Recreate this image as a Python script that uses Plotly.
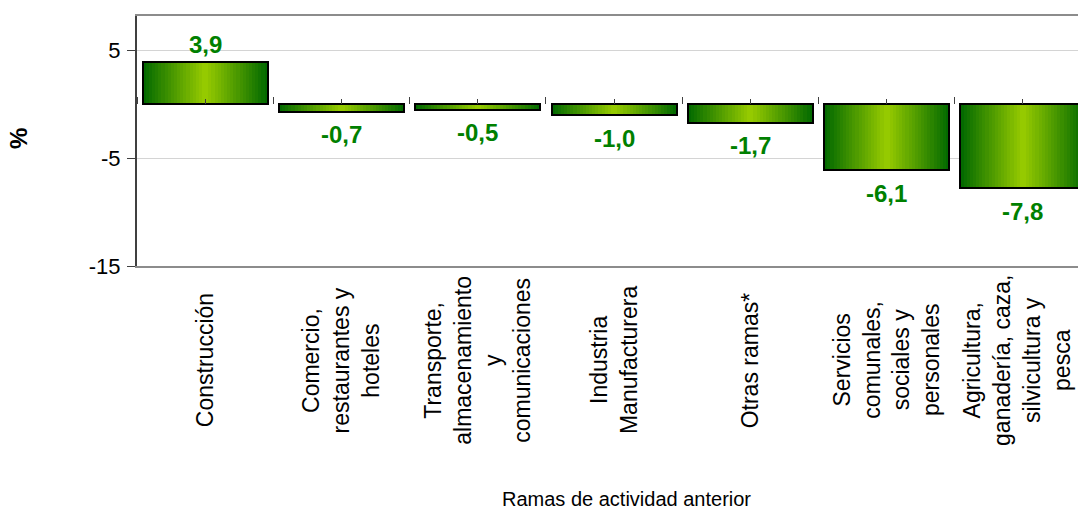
import plotly.graph_objects as go

# Data
categories = [
    "Construcción",
    "Comercio,<br>restaurantes y<br>hoteles",
    "Transporte,<br>almacenamiento<br>y<br>comunicaciones",
    "Industria<br>Manufacturera",
    "Otras ramas*",
    "Servicios<br>comunales,<br>sociales y<br>personales",
    "Agricultura,<br>ganadería, caza,<br>silvicultura y<br>pesca",
]
values = [3.9, -0.7, -0.5, -1.0, -1.7, -6.1, -7.8]
y_ticks = [-15, -5, 5]
y_tick_labels = ["-15", "-5", "5"]

y_min, y_max = -15, 8.18
x_range = [-0.5, 6.404]
bar_w = 0.917
n_strips = 40

edge_rgb = (0, 104, 0)
center_rgb = (153, 204, 0)
label_green = "#008000"

fig = go.Figure()

# horizontal gradient: many thin strips per bar, dark at the sides, light in the middle
step = bar_w / n_strips
for k in range(n_strips):
    t = (k + 0.5) / n_strips
    s = 1 - abs(2 * t - 1)
    rgb = tuple(round(e + (c - e) * s) for e, c in zip(edge_rgb, center_rgb))
    fig.add_trace(go.Bar(
        x=categories, y=values,
        width=step * 1.15, offset=-bar_w / 2 + k * step,
        marker=dict(color="rgb(%d,%d,%d)" % rgb, line=dict(width=0)),
        hoverinfo="skip", showlegend=False,
    ))

# bar outlines
fig.add_trace(go.Bar(
    x=categories, y=values, width=bar_w, offset=-bar_w / 2,
    marker=dict(color="rgba(0,0,0,0)", line=dict(color="#000000", width=2)),
    hoverinfo="skip", showlegend=False,
))

# invisible traces that carry the category ticks along the zero line
for ax in ("x2", "x3"):
    fig.add_trace(go.Scatter(
        x=categories, y=values, xaxis=ax, mode="markers",
        marker=dict(opacity=0), hoverinfo="skip", showlegend=False,
    ))

annotations = []
# value labels
for c, v in zip(categories, values):
    annotations.append(dict(
        x=c, y=v, xref="x", yref="y",
        text="<b>%s</b>" % ("%.1f" % v).replace(".", ","),
        showarrow=False, yanchor="middle",
        yshift=18 if v >= 0 else -23,
        font=dict(family="Liberation Sans, Arial", size=24, color=label_green),
    ))
# rotated category labels
for i, c in enumerate(categories):
    annotations.append(dict(
        x=c, y=-0.376, xref="x", yref="paper",
        text=c, textangle=-90, align="center",
        showarrow=False, xanchor="center", yanchor="middle",
        xshift=-6 if i == len(categories) - 1 else 0,
        font=dict(family="Liberation Sans, Arial", size=23, color="#000000"),
    ))
# axis titles
annotations.append(dict(
    x=0.5207, y=-0.932, xref="paper", yref="paper",
    text="Ramas de actividad anterior", showarrow=False,
    xanchor="center", yanchor="middle",
    font=dict(family="Liberation Sans, Arial", size=20, color="#000000"),
))
annotations.append(dict(
    x=-0.1265, y=0.512, xref="paper", yref="paper",
    text="<b>%</b>", textangle=-90, showarrow=False,
    xanchor="center", yanchor="middle",
    font=dict(family="Liberation Sans, Arial", size=24, color="#000000"),
))

zero_pos = (0 - y_min) / (y_max - y_min)

fig.update_layout(
    width=1078, height=512,
    margin=dict(l=137, r=0, t=16, b=246),
    paper_bgcolor="white", plot_bgcolor="white",
    barmode="overlay", bargap=0,
    annotations=annotations,
    font=dict(family="Liberation Sans, Arial", color="#000000"),
    xaxis=dict(
        type="category", categoryorder="array", categoryarray=categories,
        range=x_range, showticklabels=False, ticks="",
        showline=True, linecolor="#8C8C8C", linewidth=2, mirror=True,
        showgrid=False, zeroline=False,
    ),
    xaxis2=dict(
        type="category", categoryorder="array", categoryarray=categories,
        overlaying="x", anchor="free", position=zero_pos, side="top",
        range=x_range, tickson="boundaries", ticks="outside", ticklen=7,
        tickcolor="#404040", tickwidth=1, showticklabels=False,
        showline=False, showgrid=False, zeroline=False,
    ),
    xaxis3=dict(
        type="category", categoryorder="array", categoryarray=categories,
        overlaying="x", anchor="free", position=zero_pos, side="top",
        range=x_range, tickson="labels", ticks="outside", ticklen=5,
        tickcolor="#404040", tickwidth=1, showticklabels=False,
        showline=False, showgrid=False, zeroline=False,
    ),
    yaxis=dict(
        range=[y_min, y_max], tickvals=y_ticks, ticktext=y_tick_labels,
        ticks="outside", ticklen=8, tickcolor="#404040", tickwidth=1,
        ticklabelstandoff=2,
        tickfont=dict(family="Liberation Sans, Arial", size=22, color="#000000"),
        showline=True, linecolor="#404040", linewidth=2,
        showgrid=True, gridcolor="#D4D4D4", gridwidth=1, zeroline=False,
    ),
)

fig.write_html("out.html")
